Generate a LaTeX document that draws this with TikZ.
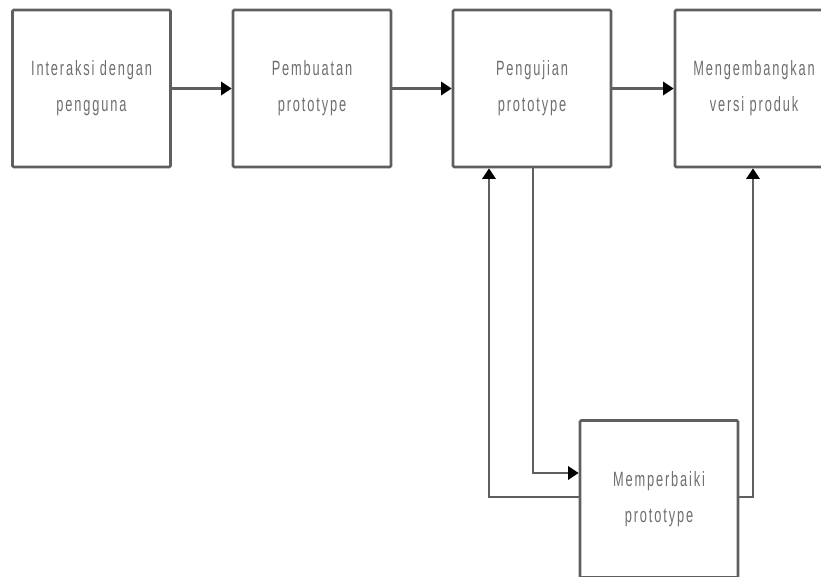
\documentclass[tikz,border=0pt]{standalone}
\usepackage{fontspec}
\setmainfont{Liberation Sans}[FakeStretch=0.62,LetterSpace=9]
\usetikzlibrary{arrows.meta}
\usetikzlibrary{positioning}
\definecolor{linegray}{RGB}{95,95,95}
\definecolor{textgray}{RGB}{110,110,110}

\begin{document}
\begin{tikzpicture}[x=0.75pt,y=-0.75pt,->,>={Triangle[length=8pt,width=10pt,color=black]},
    line width=2pt,linegray,
    main node/.style={rectangle,draw=linegray,line width=2pt,rounded corners=1pt,minimum width=118.5pt,minimum height=117.75pt,
      align=center,text=textgray,font=\fontsize{15.5}{27}\selectfont,inner sep=0pt}]
    \useasboundingbox (0,0) rectangle (821,577);
     \node[main node] (a) at (91.5,88.5) {Interaksi dengan\\pengguna};
     \node[main node] (b) at (312,88.5) {Pembuatan\\prototype};
     \node[main node] (c) at (532,88.5) {Pengujian\\prototype};
     \node[main node] (d) at (754,88.5) {Mengembangkan\\versi produk};
     \node[main node] (e) at (659,499) {Memperbaiki\\prototype};
      % jalur bawah
      \coordinate (p) at (533,473);
      \coordinate (q) at (489,497);
      \coordinate (r) at (753,497);
       \path (a) edge (b);
       \path (b) edge (c);
       \path (c) edge (d);
       \draw (p |- c.south) -- (p) -- (e.west |- p);
       \draw (e.west |- q) -- (q) -- (q |- c.south);
       \draw (e.east |- r) -- (r) -- (r |- d.south);
  \end{tikzpicture}
\end{document}
